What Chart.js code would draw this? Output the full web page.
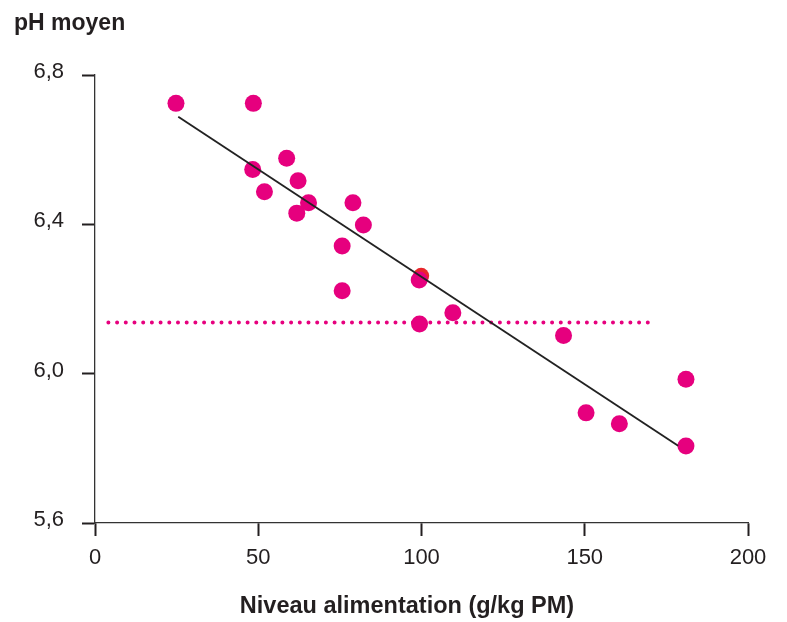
<!DOCTYPE html>
<html>
<head>
<meta charset="utf-8">
<script src="https://cdn.jsdelivr.net/npm/chart.js@4"></script>
<style>
  body { margin: 0; background: #fff; }
  #graphique { display: block; }
</style>
</head>
<body>
<canvas id="graphique" width="787" height="622"></canvas>
<script>
// niveau d'alimentation (g/kg PM) et pH moyen
const niveau = [24.8, 48.5, 58.7, 48.3, 62.2, 51.9, 65.4, 61.8, 79.0, 82.2, 75.7, 75.7, 99.3, 99.4, 109.6, 143.5, 181.0, 150.4, 160.6, 181.0];
const ph = [6.724, 6.724, 6.577, 6.547, 6.517, 6.487, 6.458, 6.430, 6.458, 6.398, 6.342, 6.222, 6.251, 6.133, 6.163, 6.102, 5.985, 5.895, 5.866, 5.806];

// point rouge à moitié caché
const rougeX = [99.9];
const rougeY = [6.262];

// droite de régression
const droiteX = [25.5, 178.6];
const droiteY = [6.688, 5.807];

// pH moyen (pointillés)
const moyenneX = [4.1, 171.4];
const moyenneY = [6.137, 6.137];

const ticksX = [0, 50, 100, 150, 200];
const ticksY = [5.6, 6.0, 6.4, 6.8];

const toPoints = (xs, ys) => xs.map((x, i) => ({ x: x, y: ys[i] }));

const magenta = '#e6007e';
const texte = '#231f20';

const titres = {
  id: 'titres',
  afterDraw(chart) {
    const ctx = chart.ctx;
    ctx.save();
    ctx.fillStyle = texte;
    ctx.textBaseline = 'alphabetic';
    ctx.font = 'bold 23px "Liberation Sans", Arial, sans-serif';
    ctx.textAlign = 'left';
    ctx.fillText('pH moyen', 14, 30);
    ctx.font = 'bold 23.5px "Liberation Sans", Arial, sans-serif';
    ctx.textAlign = 'center';
    ctx.fillText('Niveau alimentation (g/kg PM)', 407, 613);
    ctx.restore();
  }
};

new Chart(document.getElementById('graphique').getContext('2d'), {
  type: 'scatter',
  data: {
    datasets: [{
      label: 'moyenne',
      type: 'line',
      data: toPoints(moyenneX, moyenneY),
      borderColor: magenta,
      borderWidth: 4,
      borderDash: [0, 8.7],
      borderCapStyle: 'round',
      pointRadius: 0,
      fill: false,
      order: 3
    }, {
      label: 'rouge',
      data: toPoints(rougeX, rougeY),
      backgroundColor: '#e8262c',
      borderWidth: 0,
      pointRadius: 8,
      order: 2
    }, {
      label: 'pH',
      data: toPoints(niveau, ph),
      backgroundColor: magenta,
      borderWidth: 0,
      pointRadius: 8.5,
      order: 1
    }, {
      label: 'régression',
      type: 'line',
      data: toPoints(droiteX, droiteY),
      borderColor: '#222',
      borderWidth: 1.9,
      pointRadius: 0,
      fill: false,
      order: 0
    }]
  },
  options: {
    responsive: false,
    devicePixelRatio: 1,
    animation: false,
    layout: { padding: { top: 75, right: 39, left: 0, bottom: 0 } },
    plugins: { legend: { display: false }, tooltip: { enabled: false } },
    scales: {
      x: {
        type: 'linear',
        min: 0,
        max: 200,
        afterFit(scale) { scale.height = 99; },
        afterBuildTicks(scale) { scale.ticks = ticksX.map(v => ({ value: v })); },
        grid: { drawOnChartArea: false, tickLength: 13, tickWidth: 2, tickColor: texte },
        border: { color: '#333', width: 1.3 },
        ticks: {
          color: texte,
          padding: 9,
          font: { family: '"Liberation Sans", Arial, sans-serif', size: 22 }
        }
      },
      y: {
        type: 'linear',
        min: 5.6,
        max: 6.8,
        afterFit(scale) { scale.width = 95; },
        afterBuildTicks(scale) { scale.ticks = ticksY.map(v => ({ value: v })); },
        grid: { drawOnChartArea: false, tickLength: 13, tickWidth: 2, tickColor: texte },
        border: { color: '#333', width: 1.3 },
        ticks: {
          color: texte,
          padding: 18,
          labelOffset: -3,
          font: { family: '"Liberation Sans", Arial, sans-serif', size: 22 },
          callback: v => v.toFixed(1).replace('.', ',')
        }
      }
    }
  },
  plugins: [titres]
});
</script>
</body>
</html>
